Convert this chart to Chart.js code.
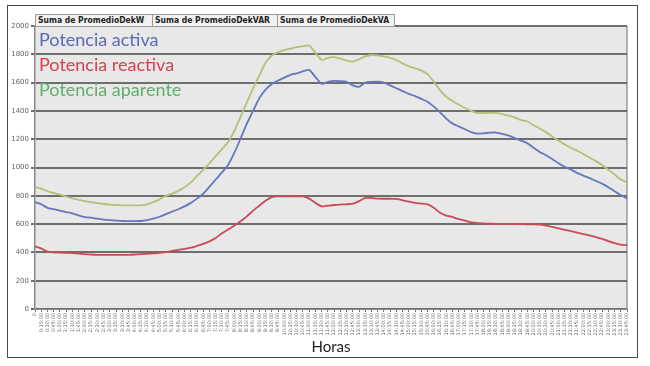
<!DOCTYPE html>
<html><head><meta charset="utf-8">
<script src="https://cdn.jsdelivr.net/npm/chart.js@4"></script>
<style>
html,body{margin:0;padding:0;background:#fff;}
#wrap{position:relative;width:650px;height:366px;}
canvas{position:absolute;left:0;top:0;}
.btn{position:absolute;top:14px;height:11px;line-height:11px;font:bold 8.5px "DejaVu Sans Condensed","Liberation Sans Narrow",sans-serif;color:#222;background:#f2f2f2;border:1px solid #9a9a9a;padding:0 2px;white-space:nowrap;overflow:hidden;box-sizing:content-box;}
.leg{position:absolute;left:39px;font:18px Lato,"Noto Sans",sans-serif;white-space:nowrap;}
</style></head><body>
<div id="wrap"><canvas id="c" width="650" height="366"></canvas></div>
<script>
const seriesNames = ["Potencia activa","Potencia reactiva","Potencia aparente"];
const fieldButtons = ["Suma de PromedioDekW","Suma de PromedioDekVAR","Suma de PromedioDekVA"];
const yTicks = [0,200,400,600,800,1000,1200,1400,1600,1800,2000];
const xTitle = "Horas";

const categories = [];
for (let i = 0; i < 96; i++) {
  const m = i * 15, h = Math.floor(m / 60), mm = m % 60;
  categories.push(i === 0 ? "0" : h + ":" + String(mm).padStart(2, "0") + ":00");
}

const potenciaActiva = [756,740,715,705,695,685,676,662,650,645,638,632,628,625,622,621,621,622,628,638,
652,670,688,705,725,750,780,815,865,915,965,1020,1105,1205,1310,1400,1490,1550,1590,1615,
1635,1655,1665,1680,1690,1640,1590,1605,1612,1610,1605,1580,1570,1600,1605,1606,1600,1580,1560,1540,
1520,1505,1485,1465,1430,1390,1345,1310,1290,1270,1250,1240,1242,1246,1247,1238,1225,1208,1190,1172,
1140,1110,1087,1060,1030,1005,985,962,943,925,905,886,860,832,805,780];

const potenciaReactiva = [442,428,405,400,398,397,395,392,388,385,383,383,383,383,383,383,385,388,390,393,
396,402,410,418,425,433,446,460,478,502,535,562,590,620,655,695,730,765,790,796,
796,796,796,796,780,750,725,730,735,738,740,744,762,785,785,780,779,779,778,768,
758,750,745,739,715,680,660,650,635,625,612,607,605,603,602,602,601,600,600,599,
598,596,590,580,570,560,550,540,530,520,508,496,480,466,455,450];

const potenciaAparente = [862,850,832,820,808,795,782,772,762,755,748,742,738,735,733,732,732,733,740,755,
775,800,815,835,860,895,940,985,1030,1080,1130,1180,1260,1360,1460,1560,1650,1740,1790,1815,
1830,1840,1850,1858,1862,1810,1760,1775,1780,1770,1755,1748,1765,1785,1795,1792,1785,1775,1760,1735,
1715,1700,1685,1660,1605,1545,1500,1470,1445,1420,1400,1385,1385,1386,1386,1378,1366,1352,1335,1325,
1300,1275,1250,1220,1190,1162,1140,1118,1095,1070,1045,1018,985,950,915,895];

const lineColors = ["#6676bf","#c94a56","#b3c176"];
const legendColors = ["#5a6ab4","#d6424d","#5fae6b"];

const wrap = document.getElementById("wrap");
const btnX = [35, 152, 277];
const btnW = [113, 121, 112];
fieldButtons.forEach((t, i) => {
  const d = document.createElement("div");
  d.className = "btn"; d.textContent = t;
  d.style.left = btnX[i] + "px"; d.style.width = btnW[i] + "px";
  wrap.appendChild(d);
});
seriesNames.forEach((t, i) => {
  const d = document.createElement("div");
  d.className = "leg"; d.textContent = t;
  d.style.top = (28 + i * 25) + "px"; d.style.color = legendColors[i];
  wrap.appendChild(d);
});

const bgPlugin = {
  id: "bg",
  beforeDraw(chart) {
    const {ctx, chartArea: a} = chart;
    ctx.save();
    ctx.fillStyle = "#e8e8e8";
    ctx.fillRect(a.left, a.top, a.right - a.left, a.bottom - a.top);
    ctx.strokeStyle = "#9a9a9a"; ctx.lineWidth = 1.5;
    ctx.beginPath(); ctx.moveTo(a.right, a.top); ctx.lineTo(a.right, a.bottom); ctx.stroke();
    ctx.restore();
  },
  afterDraw(chart) {
    const ctx = chart.ctx;
    ctx.save();
    ctx.strokeStyle = "#4a4a4a"; ctx.lineWidth = 1;
    ctx.strokeRect(7.5, 5.5, 630, 352);
    ctx.restore();
  }
};

new Chart(document.getElementById("c"), {
  type: "line",
  data: {
    labels: categories,
    datasets: [
      {label: seriesNames[0], data: potenciaActiva, borderColor: lineColors[0], borderWidth: 1.8, pointRadius: 0, tension: 0.2},
      {label: seriesNames[1], data: potenciaReactiva, borderColor: lineColors[1], borderWidth: 1.8, pointRadius: 0, tension: 0.2},
      {label: seriesNames[2], data: potenciaAparente, borderColor: lineColors[2], borderWidth: 1.8, pointRadius: 0, tension: 0.2}
    ]
  },
  options: {
    responsive: false,
    animation: false,
    layout: {padding: {left: 8, right: 23, top: 26, bottom: 10}},
    plugins: {legend: {display: false}, tooltip: {enabled: false}},
    scales: {
      x: {
        offset: false,
        grid: {drawOnChartArea: false, drawTicks: true, tickLength: 3, color: "#777"},
        border: {color: "#8a8a8a", width: 1},
        ticks: {autoSkip: false, maxRotation: 90, minRotation: 90, padding: 1, font: {size: 5, family: "DejaVu Sans"}, color: "#666"},
        title: {display: true, text: xTitle, font: {size: 15, family: "Lato, 'Noto Sans', sans-serif"}, color: "#222", padding: {top: 0, bottom: 0}},
        afterFit(s) { s.height = 47; }
      },
      y: {
        min: 0, max: 2000,
        afterBuildTicks(s) { s.ticks = yTicks.map(v => ({value: v})); },
        grid: {color: "#6e6e6e", lineWidth: 2, tickLength: 4, drawTicks: true},
        border: {color: "#8a8a8a", width: 1.5},
        ticks: {font: {size: 7, family: "DejaVu Sans"}, color: "#666", padding: 2, callback: v => String(v)},
        afterFit(s) { s.width = 27; }
      }
    }
  },
  plugins: [bgPlugin]
});
</script>
</body></html>
